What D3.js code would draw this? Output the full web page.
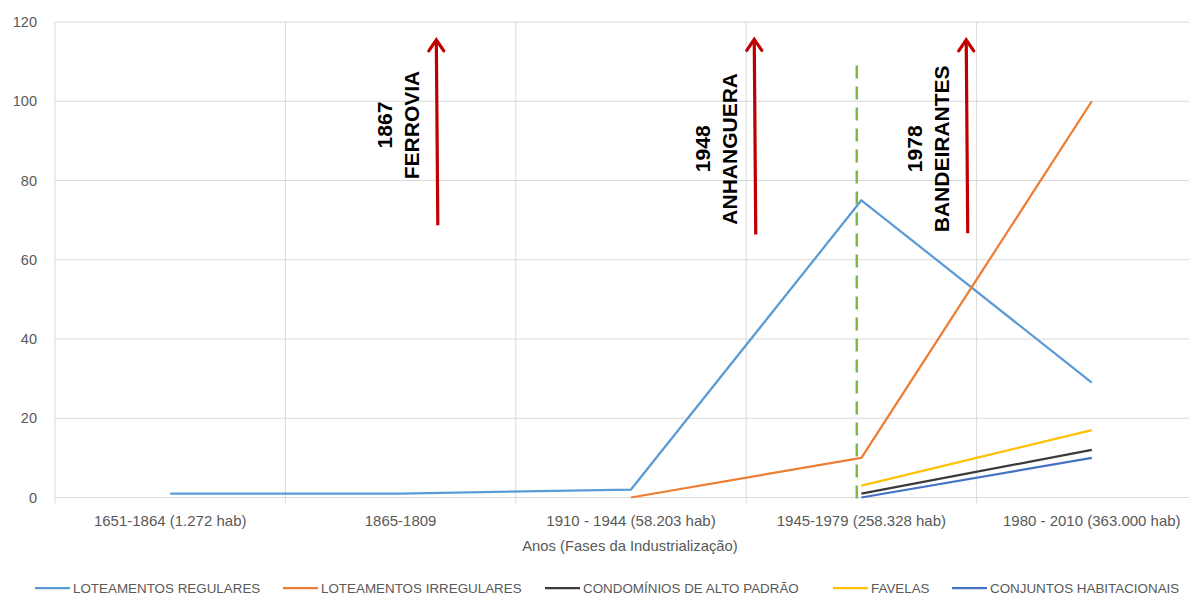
<!DOCTYPE html>
<html>
<head>
<meta charset="utf-8">
<script src="https://cdn.jsdelivr.net/npm/d3@7"></script>
<style>
  html, body { margin: 0; padding: 0; background: #fff; }
  svg { display: block; font-family: "Liberation Sans", Arial, sans-serif; }
</style>
</head>
<body>
<svg id="chart" width="1189" height="596"></svg>
<script>
// Phases of industrialization (x categories)
const categories = [
  "1651-1864 (1.272 hab)",
  "1865-1809",
  "1910 - 1944 (58.203 hab)",
  "1945-1979 (258.328 hab)",
  "1980 - 2010 (363.000 hab)"
];

// Series values per phase (null = not present in that phase)
const loteamentosRegulares   = [1, 1, 2, 75, 29];
const loteamentosIrregulares = [null, null, 0, 10, 100];
const condominios            = [null, null, null, 1, 12];
const favelas                = [null, null, null, 3, 17];
const conjuntos              = [null, null, null, 0, 10];

const seriesNames = [
  "LOTEAMENTOS REGULARES",
  "LOTEAMENTOS IRREGULARES",
  "CONDOMÍNIOS DE ALTO PADRÃO",
  "FAVELAS",
  "CONJUNTOS HABITACIONAIS"
];
const seriesColors = ["#5B9BD5", "#ED7D31", "#3A3A3A", "#FFC000", "#4472C4"];
const seriesValues = [loteamentosRegulares, loteamentosIrregulares, condominios, favelas, conjuntos];

const yTicks = [0, 20, 40, 60, 80, 100, 120];

// Highway / railway milestones: position along the phase axis (in phase units),
// arrow from/to values, label centre value
const milestoneYears = ["1867", "1948", "1978"];
const milestoneNames = ["FERROVIA", "ANHANGUERA", "BANDEIRANTES"];
const milestonePos   = [1.655, 3.035, 3.955];
const milestoneFrom  = [68.7, 66.4, 66.7];
const milestoneTo    = [115.5, 115.6, 115.5];
const milestoneLabelY = [94, 88, 88];

// Dashed marker inside the 1945-1979 phase
const markerPos = 3.48;
const markerRange = [109, -1];

const svg = d3.select("#chart");
const plotLeft = 55, plotTop = 22, plotBottom = 497.5, plotRight = 1207;

const x = d3.scaleBand().domain(categories).range([plotLeft, plotRight]).paddingInner(0).paddingOuter(0);
const xc = c => x(c) + x.bandwidth() / 2;
const xPos = d3.scaleLinear().domain([0, categories.length]).range([plotLeft, plotRight]);
const y = d3.scaleLinear().domain([0, 120]).range([plotBottom, plotTop]);

const grid = "#D9D9D9";
const textColor = "#595959";

// Horizontal gridlines
svg.append("g").selectAll("line").data(yTicks).join("line")
  .attr("x1", plotLeft).attr("x2", plotRight)
  .attr("y1", d => y(d)).attr("y2", d => y(d))
  .attr("stroke", grid).attr("stroke-width", 1);

// Vertical gridlines at phase boundaries (extend below the axis as tick marks)
const bounds = categories.map(c => x(c)).concat([plotRight]);
svg.append("g").selectAll("line").data(bounds).join("line")
  .attr("x1", d => d).attr("x2", d => d)
  .attr("y1", plotTop).attr("y2", plotBottom + 6)
  .attr("stroke", grid).attr("stroke-width", 1);

// Y tick labels
svg.append("g").selectAll("text").data(yTicks).join("text")
  .attr("x", 37).attr("y", d => y(d)).attr("dy", "0.35em")
  .attr("text-anchor", "end")
  .attr("font-size", 14.5).attr("fill", textColor)
  .text(d => d);

// X category labels
svg.append("g").selectAll("text").data(categories).join("text")
  .attr("x", d => xc(d)).attr("y", 521).attr("dy", "0.35em")
  .attr("text-anchor", "middle")
  .attr("font-size", 15).attr("fill", textColor)
  .text(d => d);

// Axis title
svg.append("text")
  .attr("x", 630).attr("y", 546).attr("dy", "0.35em")
  .attr("text-anchor", "middle")
  .attr("font-size", 14.8).attr("fill", textColor)
  .text("Anos (Fases da Industrialização)");

// Series lines
const line = d3.line()
  .defined(d => d.v !== null)
  .x(d => xc(d.c))
  .y(d => y(d.v));

seriesValues.forEach((vals, i) => {
  const pts = categories.map((c, j) => ({ c, v: vals[j] }));
  svg.append("path")
    .datum(pts)
    .attr("d", line)
    .attr("fill", "none")
    .attr("stroke", seriesColors[i])
    .attr("stroke-width", 2.25)
    .attr("stroke-linejoin", "round");
});

// Dashed marker
svg.append("line")
  .attr("x1", xPos(markerPos)).attr("x2", xPos(markerPos))
  .attr("y1", y(markerRange[0])).attr("y2", y(markerRange[1]))
  .attr("stroke", "#7CB84A").attr("stroke-width", 2.5)
  .attr("stroke-dasharray", "13,8");

// Milestone arrows and labels
const arrowColor = "#C00000";
milestoneYears.forEach((yr, i) => {
  const ax = xPos(milestonePos[i]);
  const y0 = y(milestoneFrom[i]), y1 = y(milestoneTo[i]);
  const g = svg.append("g");
  g.append("line")
    .attr("x1", ax + 1.5).attr("y1", y0)
    .attr("x2", ax).attr("y2", y1 + 1)
    .attr("stroke", arrowColor).attr("stroke-width", 3.2);
  g.append("path")
    .attr("d", `M${ax - 7.5},${y1 + 11} L${ax},${y1} L${ax + 7.5},${y1 + 11}`)
    .attr("fill", "none").attr("stroke", arrowColor)
    .attr("stroke-width", 3.2).attr("stroke-linejoin", "miter").attr("stroke-linecap", "round");

  const ly = y(milestoneLabelY[i]);
  const t = g.append("text")
    .attr("transform", `translate(${ax - 37},${ly}) rotate(-90)`)
    .attr("text-anchor", "middle")
    .attr("font-size", 21).attr("font-weight", "bold").attr("fill", "#000");
  t.append("tspan").attr("x", 0).attr("dy", "-0.35em").text(yr);
  t.append("tspan").attr("x", 0).attr("dy", "1.3em").text(milestoneNames[i]);
});

// Legend
const legendX = [35, 283, 545, 833, 952];
const lg = svg.append("g");
seriesNames.forEach((name, i) => {
  const lx = legendX[i];
  lg.append("line")
    .attr("x1", lx).attr("x2", lx + 35)
    .attr("y1", 588).attr("y2", 588)
    .attr("stroke", seriesColors[i]).attr("stroke-width", 2.25);
  lg.append("text")
    .attr("x", lx + 38).attr("y", 588).attr("dy", "0.35em")
    .attr("font-size", 13.4).attr("fill", textColor)
    .text(name);
});
</script>
</body>
</html>
